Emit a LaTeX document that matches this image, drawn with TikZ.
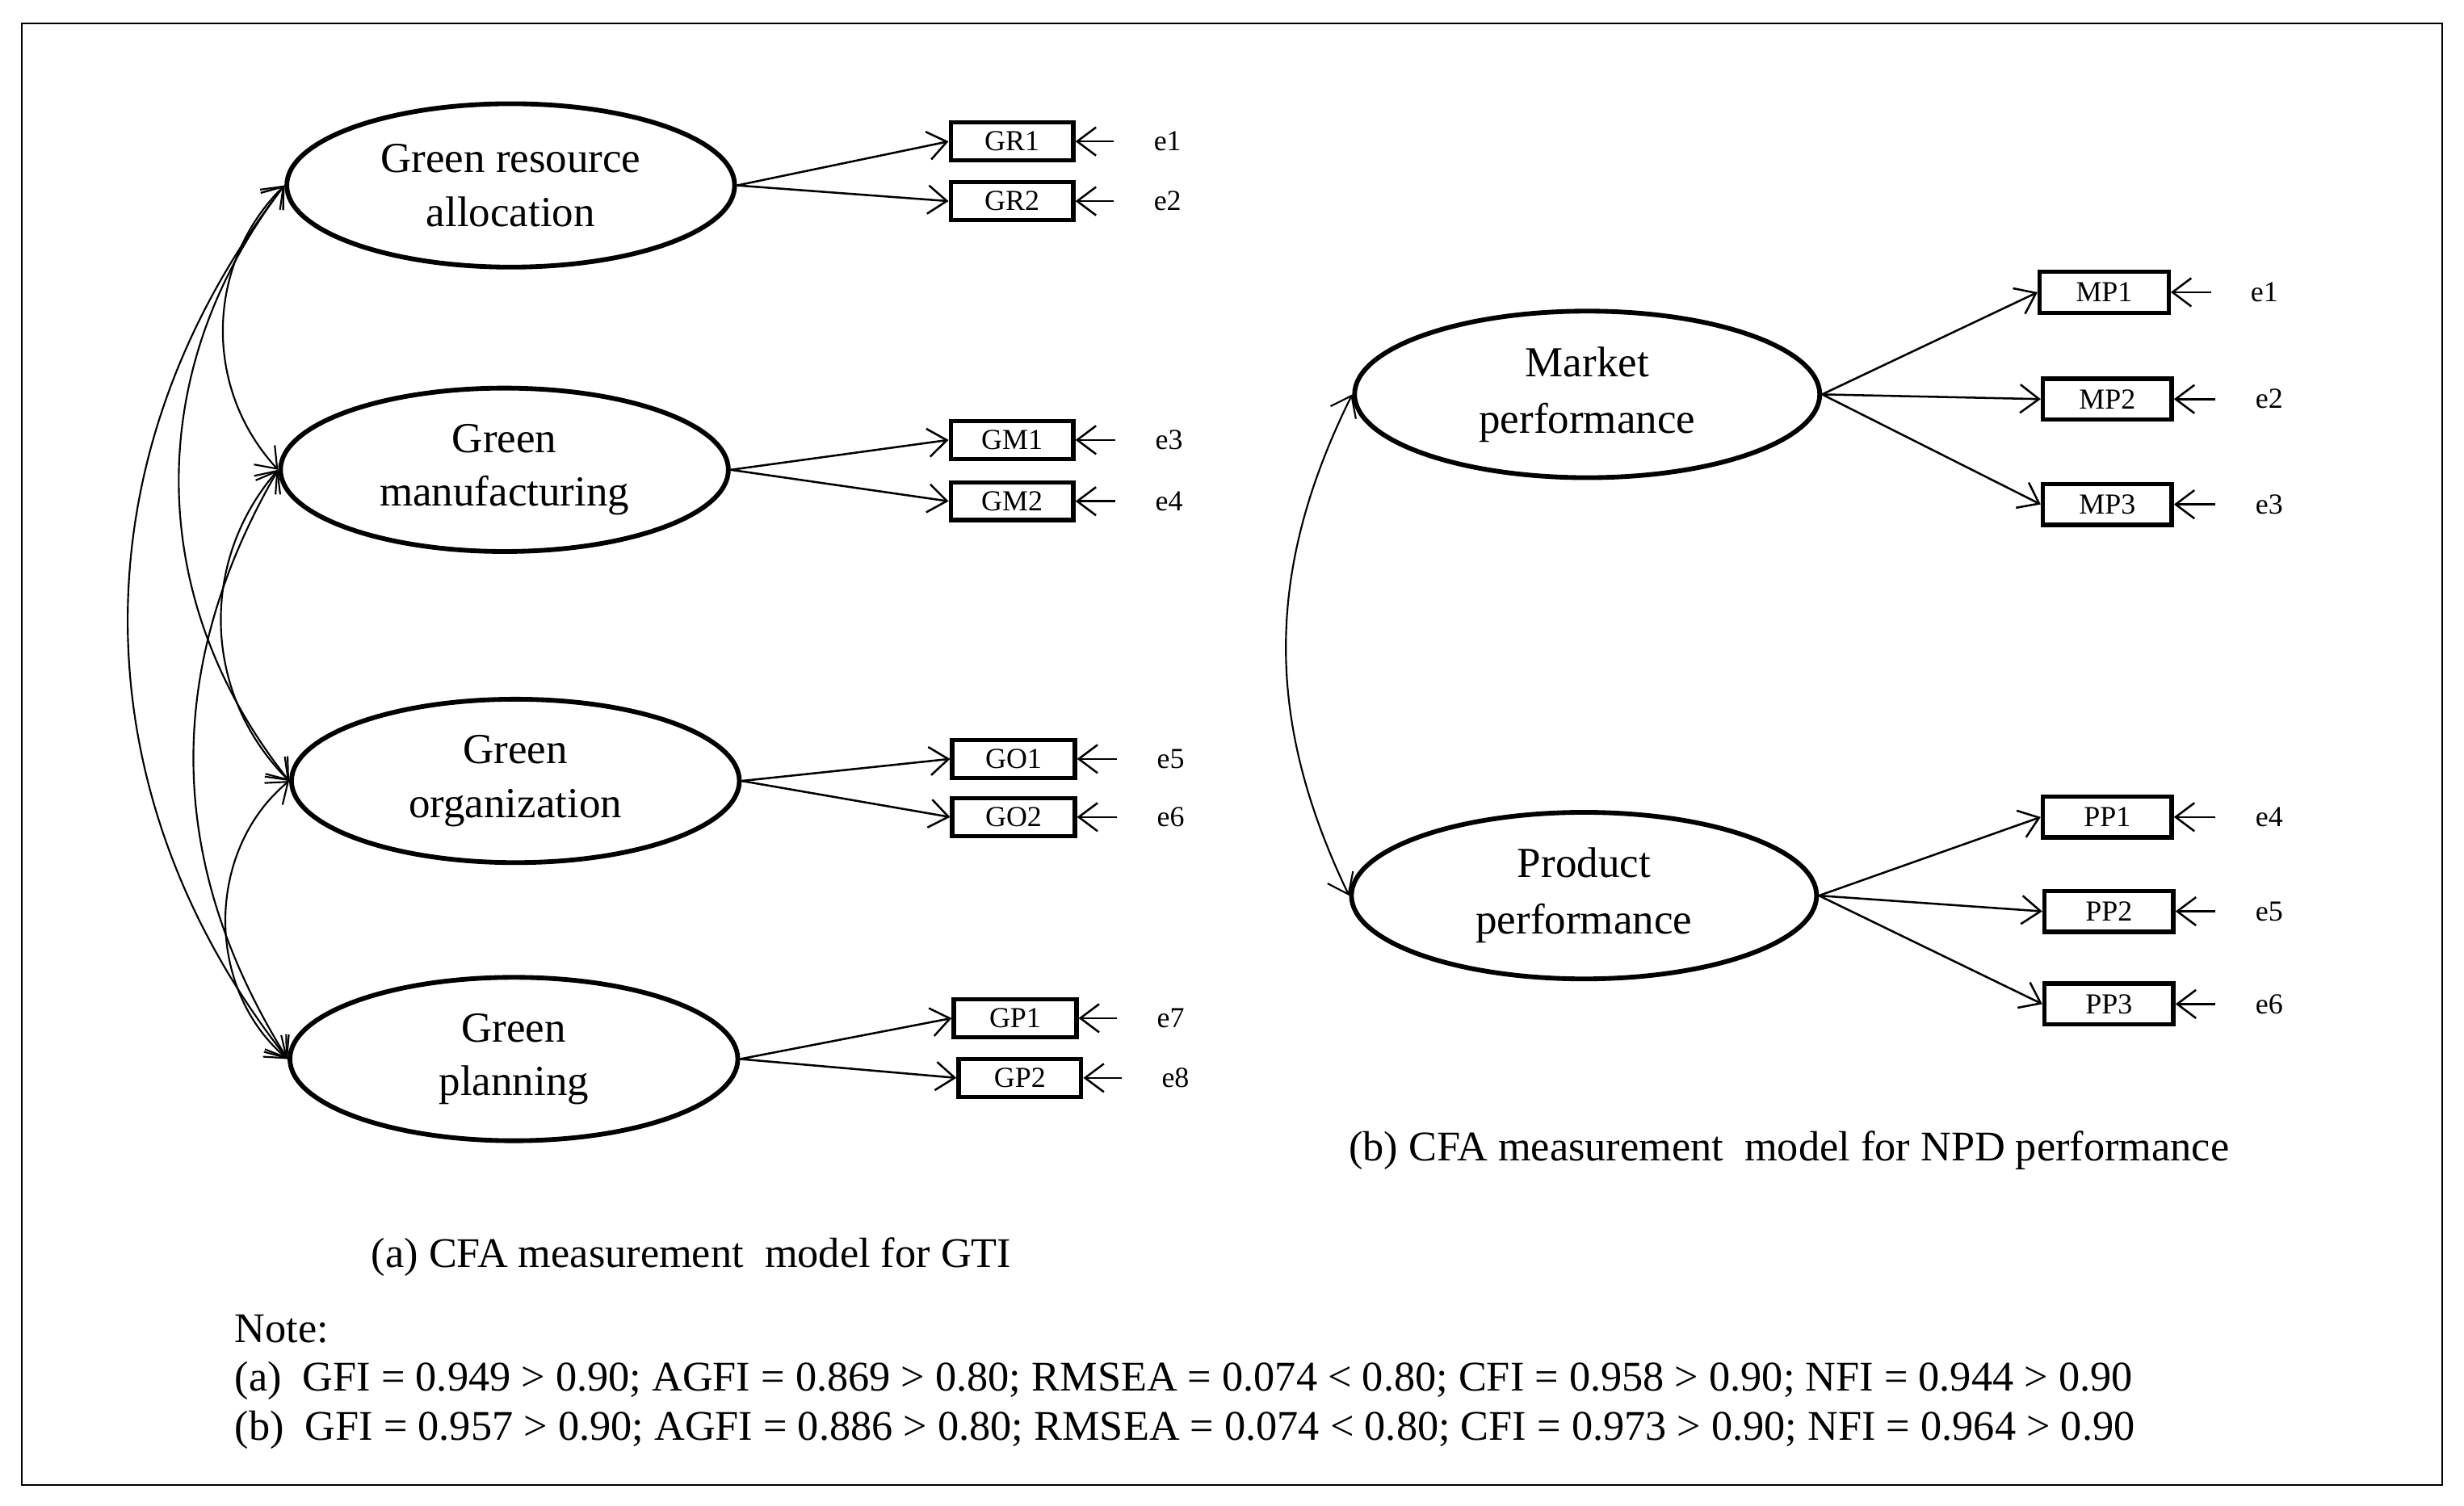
\documentclass[tikz,border=0pt]{standalone}
\usepackage{fontspec}
\setmainfont{Liberation Serif}
\usepackage{tikz}
\usetikzlibrary{shapes.geometric,arrows.meta}
\tikzset{
  latent/.style = {ellipse, draw=black, line width=0.6mm, align=center,
    inner sep=0pt, minimum width=57mm, minimum height=20.8mm,
    font=\fontsize{15.5}{19.4}\selectfont},% factor
  latent_b/.style = {latent, minimum width=59.2mm, minimum height=21.2mm,
    font=\fontsize{15.5}{20.5}\selectfont},% factor, right model
  indic/.style = {rectangle, draw=black, line width=0.55mm, inner sep=0pt,
    minimum width=15.6mm, minimum height=4.8mm,
    font=\fontsize{10.5}{12}\selectfont},% observed item
  indic_b/.style = {indic, minimum width=16.4mm, minimum height=5.2mm},
  errlab/.style = {inner sep=0pt, font=\fontsize{10.5}{12}\selectfont},
  load/.style = {->, line width=0.26mm},
  err/.style = {->, line width=0.26mm, shorten <=5mm},
  corr/.style = {<->, line width=0.22mm},
  caption/.style = {anchor=west, inner sep=0pt,
    font=\fontsize{15.3}{17.6}\selectfont}
}

\begin{document}
\begin{tikzpicture}[x=0.2mm,y=-0.2mm,
  >={Straight Barb[length=2.4mm,width=3.6mm]}]
\useasboundingbox (0,0) rectangle (1568,958);
\draw[line width=0.2mm] (14,15) rectangle (1554,945);

% (a) GTI
\node [latent] (GR) at (325,118) {Green resource\\allocation};
\node [latent] (GM) at (321,299) {Green\\manufacturing};
\node [latent] (GO) at (328,497) {Green\\organization};
\node [latent] (GP) at (327,674) {Green\\planning};

\node [indic] (GR1) at (644,90) {GR1};
\node [indic] (GR2) at (644,128) {GR2};
\node [indic] (GM1) at (644,280) {GM1};
\node [indic] (GM2) at (644,319) {GM2};
\node [indic] (GO1) at (645,483) {GO1};
\node [indic] (GO2) at (645,520) {GO2};
\node [indic] (GP1) at (646,648) {GP1};
\node [indic] (GP2) at (649,686) {GP2};

\node [errlab] (ea1) at (743,90) {e1};
\node [errlab] (ea2) at (743,128) {e2};
\node [errlab] (ea3) at (744,280) {e3};
\node [errlab] (ea4) at (744,319) {e4};
\node [errlab] (ea5) at (745,483) {e5};
\node [errlab] (ea6) at (745,520) {e6};
\node [errlab] (ea7) at (745,648) {e7};
\node [errlab] (ea8) at (748,686) {e8};

\draw [load] (GR.east) -- (GR1.west);
\draw [load] (GR.east) -- (GR2.west);
\draw [load] (GM.east) -- (GM1.west);
\draw [load] (GM.east) -- (GM2.west);
\draw [load] (GO.east) -- (GO1.west);
\draw [load] (GO.east) -- (GO2.west);
\draw [load] (GP.east) -- (GP1.west);
\draw [load] (GP.east) -- (GP2.west);

\draw [err] (ea1) -- (GR1);
\draw [err] (ea2) -- (GR2);
\draw [err] (ea3) -- (GM1);
\draw [err] (ea4) -- (GM2);
\draw [err] (ea5) -- (GO1);
\draw [err] (ea6) -- (GO2);
\draw [err] (ea7) -- (GP1);
\draw [err] (ea8) -- (GP2);

\draw [corr] (GR.west) to[bend right=44] (GM.west);
\draw [corr] (GR.west) to[bend right=38] (GO.west);
\draw [corr] (GR.west) to[bend right=38] (GP.west);
\draw [corr] (GM.west) to[bend right=43] (GO.west);
\draw [corr] (GM.west) to[bend right=31] (GP.west);
\draw [corr] (GO.west) to[bend right=50] (GP.west);

% (b) NPD performance
\node [latent_b] (MP) at (1010,251) {Market\\performance};
\node [latent_b] (PP) at (1008,570) {Product\\performance};

\node [indic_b] (MP1) at (1339,186) {MP1};
\node [indic_b] (MP2) at (1341,254) {MP2};
\node [indic_b] (MP3) at (1341,321) {MP3};
\node [indic_b] (PP1) at (1341,520) {PP1};
\node [indic_b] (PP2) at (1342,580) {PP2};
\node [indic_b] (PP3) at (1342,639) {PP3};

\node [errlab] (eb1) at (1441,186) {e1};
\node [errlab] (eb2) at (1444,254) {e2};
\node [errlab] (eb3) at (1444,321) {e3};
\node [errlab] (eb4) at (1444,520) {e4};
\node [errlab] (eb5) at (1444,580) {e5};
\node [errlab] (eb6) at (1444,639) {e6};

\draw [load] (MP.east) -- (MP1.west);
\draw [load] (MP.east) -- (MP2.west);
\draw [load] (MP.east) -- (MP3.west);
\draw [load] (PP.east) -- (PP1.west);
\draw [load] (PP.east) -- (PP2.west);
\draw [load] (PP.east) -- (PP3.west);

\draw [err] (eb1) -- (MP1);
\draw [err] (eb2) -- (MP2);
\draw [err] (eb3) -- (MP3);
\draw [err] (eb4) -- (PP1);
\draw [err] (eb5) -- (PP2);
\draw [err] (eb6) -- (PP3);

\draw [corr] (MP.west) to[bend right=26] (PP.west);

% captions and note
\node [caption] (capb) at (858,732) {(b) CFA measurement\ \ model for NPD performance};
\node [caption] (capa) at (236,800) {(a) CFA measurement\ \ model for GTI};
\node [caption] (note) at (149,846) {Note:};
\node [caption] (notea) at (149,879)
  {(a)\ \ GFI = 0.949 > 0.90; AGFI = 0.869 > 0.80; RMSEA = 0.074 < 0.80; CFI = 0.958 > 0.90; NFI = 0.944 > 0.90};
\node [caption] (noteb) at (149,910)
  {(b)\ \ GFI = 0.957 > 0.90; AGFI = 0.886 > 0.80; RMSEA = 0.074 < 0.80; CFI = 0.973 > 0.90; NFI = 0.964 > 0.90};
\end{tikzpicture}
\end{document}
